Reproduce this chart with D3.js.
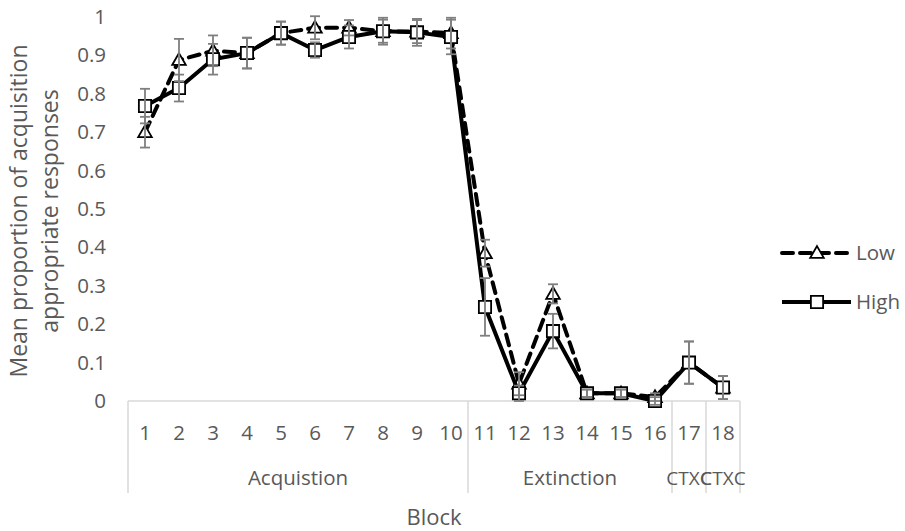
<!DOCTYPE html>
<html>
<head>
<meta charset="utf-8">
<script src="https://cdn.jsdelivr.net/npm/d3@7/dist/d3.min.js"></script>
<style>
  html, body { margin: 0; padding: 0; background: #fff; }
  svg { display: block; font-family: "Open Sans", "Noto Sans", sans-serif; }
</style>
</head>
<body>
<svg id="chart" width="905" height="531"></svg>
<script>
// Blocks and their phase groups
const blocks = d3.range(1, 19).map(String);
const phases = ["Acquistion", "Extinction", "CTXC", "CTXC"];
const phaseLengths = [10, 6, 1, 1];

// Mean proportion of acquisition-appropriate responses
const lowMeans  = [0.70, 0.888, 0.912, 0.906, 0.958, 0.972, 0.972, 0.963, 0.962, 0.958,
                   0.385, 0.045, 0.279, 0.02, 0.02, 0.01, 0.10, 0.035];
const highMeans = [0.768, 0.815, 0.89, 0.906, 0.958, 0.914, 0.948, 0.963, 0.960, 0.948,
                   0.245, 0.02, 0.182, 0.02, 0.02, 0.0, 0.10, 0.035];
// Standard error of each mean
const lowErr  = [0.04, 0.055, 0.04, 0.04, 0.03, 0.03, 0.02, 0.03, 0.03, 0.04,
                 0.035, 0.03, 0.025, 0.01, 0.01, 0.01, 0.055, 0.03];
const highErr = [0.045, 0.035, 0.04, 0.04, 0.03, 0.02, 0.03, 0.035, 0.035, 0.045,
                 0.075, 0.02, 0.045, 0.01, 0.01, 0.01, 0.055, 0.03];

const yTicks = d3.range(0, 11).map(i => i / 10);
const seriesNames = ["Low", "High"];

const svg = d3.select("#chart");
const plotLeft = 128, plotRight = 740, plotTop = 17, plotBottom = 401;

const x = d3.scaleBand().domain(blocks).range([plotLeft, plotRight]).padding(0);
const y = d3.scaleLinear().domain([0, 1]).range([plotBottom, plotTop]);

const textGray = "#595959";
const axisGray = "#d9d9d9";
const labelSize = "20.5px";

// Y tick labels (no axis line)
const yAxis = d3.axisLeft(y).tickValues(yTicks).tickSize(0).tickPadding(0)
  .tickFormat(d => d === 0 ? "0" : d === 1 ? "1" : d3.format(".1f")(d));
const yg = svg.append("g").attr("transform", "translate(106,0)").call(yAxis);
yg.select(".domain").remove();
yg.selectAll("text").attr("fill", textGray).style("font-size", labelSize)
  .style("font-family", "'Open Sans', sans-serif");

// Category axis: baseline, block numbers and phase dividers
svg.append("line").attr("x1", plotLeft).attr("x2", plotRight).attr("y1", plotBottom).attr("y2", plotBottom)
  .attr("stroke", axisGray).attr("stroke-width", 1.5);

const xAxis = d3.axisBottom(x).tickSize(0).tickPadding(0);
const xg = svg.append("g").attr("transform", `translate(0,${plotBottom})`).call(xAxis);
xg.select(".domain").remove();
xg.selectAll("text").attr("fill", textGray).attr("dy", null).attr("y", 39)
  .style("font-size", labelSize).style("font-family", "'Open Sans', sans-serif");

// Phase groups
let start = 0;
const groupSpans = phases.map((p, i) => {
  const s = start; start += phaseLengths[i];
  return { name: p, x0: x(blocks[s]), x1: x(blocks[start - 1]) + x.bandwidth() };
});
const dividers = [plotLeft].concat(groupSpans.map(g => g.x1));
svg.selectAll("line.divider").data(dividers).enter().append("line")
  .attr("class", "divider")
  .attr("x1", d => d).attr("x2", d => d).attr("y1", plotBottom).attr("y2", 493)
  .attr("stroke", axisGray).attr("stroke-width", 1.5);
svg.selectAll("text.phase").data(groupSpans).enter().append("text")
  .attr("class", "phase")
  .attr("x", d => (d.x0 + d.x1) / 2).attr("y", 485)
  .attr("text-anchor", "middle").attr("fill", textGray)
  .style("font-size", d => d.x1 - d.x0 < 40 ? "19px" : labelSize)
  .text(d => d.name);

// Axis titles
svg.append("text").attr("x", (plotLeft + plotRight) / 2).attr("y", 525).attr("text-anchor", "middle")
  .attr("fill", textGray).style("font-size", "22px").text("Block");
const yTitle = svg.append("text").attr("transform", "translate(0,211) rotate(-90)")
  .attr("text-anchor", "middle").attr("fill", textGray).style("font-size", "23px");
yTitle.append("tspan").attr("x", 0).attr("y", 27).text("Mean proportion of acquisition");
yTitle.append("tspan").attr("x", 0).attr("y", 58).text("appropriate responses");

// Series
const cx = i => x(blocks[i]) + x.bandwidth() / 2;
const series = [
  { name: seriesNames[0], means: lowMeans, err: lowErr, dash: "11,7", marker: "triangle" },
  { name: seriesNames[1], means: highMeans, err: highErr, dash: null, marker: "square" }
];
const line = d3.line().x((d, i) => cx(i)).y(d => y(d));
const sym = {
  triangle: d3.symbol().type(d3.symbolTriangle).size(80),
  square: d3.symbol().type(d3.symbolSquare).size(150)
};

series.forEach(s => {
  svg.append("path").datum(s.means).attr("d", line)
    .attr("fill", "none").attr("stroke", "#000").attr("stroke-width", 4)
    .attr("stroke-dasharray", s.dash).attr("stroke-linejoin", "round")
    .attr("stroke-linecap", s.dash ? "round" : "butt");
  svg.selectAll(null).data(s.means).enter().append("path")
    .attr("d", sym[s.marker])
    .attr("transform", (d, i) => `translate(${cx(i)},${y(d) + (s.marker === "triangle" ? 1 : 0)})`)
    .attr("fill", "#fff").attr("stroke", "#000").attr("stroke-width", 1.8);
});

// Error bars on top of the markers
series.forEach(s => {
  const g = svg.append("g").attr("stroke", "#7f7f7f").attr("stroke-width", 1.8);
  s.means.forEach((m, i) => {
    const hi = y(Math.min(1.02, m + s.err[i])), lo = y(Math.max(-0.01, m - s.err[i]));
    g.append("line").attr("x1", cx(i)).attr("x2", cx(i)).attr("y1", hi).attr("y2", lo);
    g.append("line").attr("x1", cx(i) - 5).attr("x2", cx(i) + 5).attr("y1", hi).attr("y2", hi);
    g.append("line").attr("x1", cx(i) - 5).attr("x2", cx(i) + 5).attr("y1", lo).attr("y2", lo);
  });
});

// Legend
const legend = svg.append("g");
series.forEach((s, k) => {
  const ly = 253 + k * 49;
  legend.append("line").attr("x1", 782).attr("x2", 851).attr("y1", ly).attr("y2", ly)
    .attr("stroke", "#000").attr("stroke-width", 4)
    .attr("stroke-dasharray", s.dash ? "11,7" : null)
    .attr("stroke-linecap", s.dash ? "round" : "butt");
  legend.append("path").attr("d", sym[s.marker])
    .attr("transform", `translate(817,${ly + (s.marker === "triangle" ? 1 : 0)})`)
    .attr("fill", "#fff").attr("stroke", "#000").attr("stroke-width", 1.8);
  legend.append("text").attr("x", 856).attr("y", ly + 7).attr("fill", textGray)
    .style("font-size", labelSize).text(s.name);
});
</script>
</body>
</html>
